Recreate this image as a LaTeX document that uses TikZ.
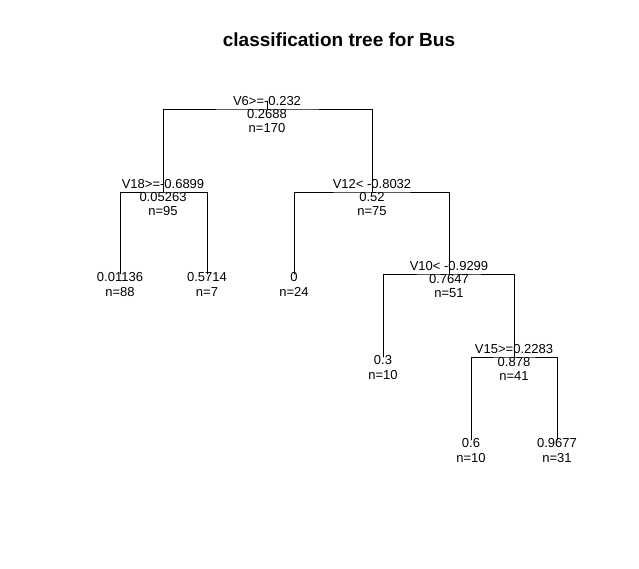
\documentclass[tikz,border=0pt]{standalone}
\usepackage{fontspec}
\setmainfont{Liberation Sans}
\begin{document}
\begin{tikzpicture}[x=1pt,y=-1pt,line width=.9pt,line cap=round,line join=round,
  lab/.style={inner sep=0pt,text height=9.3pt,text depth=0pt,font=\fontsize{13}{15}\selectfont}]
\useasboundingbox (0,0) rectangle (639,568);
\node[inner sep=0pt,text height=13.6pt,text depth=0pt,font=\fontsize{19}{22}\selectfont\bfseries] (title) at (339,39.5) {classification tree for Bus};
% split points and leaves
\coordinate (rootstub) at (267,101);
\coordinate (root) at (267,109);
\coordinate (v18) at (163,192);
\coordinate (v12) at (372,192);
\coordinate (l88) at (120,274);
\coordinate (l7) at (207,274);
\coordinate (l24) at (294,274);
\coordinate (v10) at (449,274);
\coordinate (l10a) at (383,357);
\coordinate (v15) at (514,357);
\coordinate (l10b) at (471,440);
\coordinate (l31) at (557,440);
% branches
\draw (rootstub) -- (root);
\draw (v18) |- (root) -| (v12);
\draw (l88) |- (v18) -| (l7);
\draw (l24) |- (v12) -| (v10);
\draw (l10a) |- (v10) -| (v15);
\draw (l10b) |- (v15) -| (l31);
% splits
\node[lab] (rootsplit) at ([yshift=8pt]root) {V6>=-0.232};
\node[lab] (rootval) at ([yshift=-4.5pt]root) {0.2688};
\node[lab] (rootn) at ([yshift=-19pt]root) {n=170};
\node[lab] (v18split) at ([yshift=8pt]v18) {V18>=-0.6899};
\node[lab] (v18val) at ([yshift=-4.5pt]v18) {0.05263};
\node[lab] (v18n) at ([yshift=-19pt]v18) {n=95};
\node[lab] (v12split) at ([yshift=8pt]v12) {V12< -0.8032};
\node[lab] (v12val) at ([yshift=-4.5pt]v12) {0.52};
\node[lab] (v12n) at ([yshift=-19pt]v12) {n=75};
\node[lab] (v10split) at ([yshift=8pt]v10) {V10< -0.9299};
\node[lab] (v10val) at ([yshift=-4.5pt]v10) {0.7647};
\node[lab] (v10n) at ([yshift=-19pt]v10) {n=51};
\node[lab] (v15split) at ([yshift=8pt]v15) {V15>=0.2283};
\node[lab] (v15val) at ([yshift=-4.5pt]v15) {0.878};
\node[lab] (v15n) at ([yshift=-19pt]v15) {n=41};
% leaves
\node[lab] (l88val) at ([yshift=-3pt]l88) {0.01136};
\node[lab] (l88n) at ([yshift=-18pt]l88) {n=88};
\node[lab] (l7val) at ([yshift=-3pt]l7) {0.5714};
\node[lab] (l7n) at ([yshift=-18pt]l7) {n=7};
\node[lab] (l24val) at ([yshift=-3pt]l24) {0};
\node[lab] (l24n) at ([yshift=-18pt]l24) {n=24};
\node[lab] (l10aval) at ([yshift=-3pt]l10a) {0.3};
\node[lab] (l10an) at ([yshift=-18pt]l10a) {n=10};
\node[lab] (l10bval) at ([yshift=-3pt]l10b) {0.6};
\node[lab] (l10bn) at ([yshift=-18pt]l10b) {n=10};
\node[lab] (l31val) at ([yshift=-3pt]l31) {0.9677};
\node[lab] (l31n) at ([yshift=-18pt]l31) {n=31};
\end{tikzpicture}
\end{document}
